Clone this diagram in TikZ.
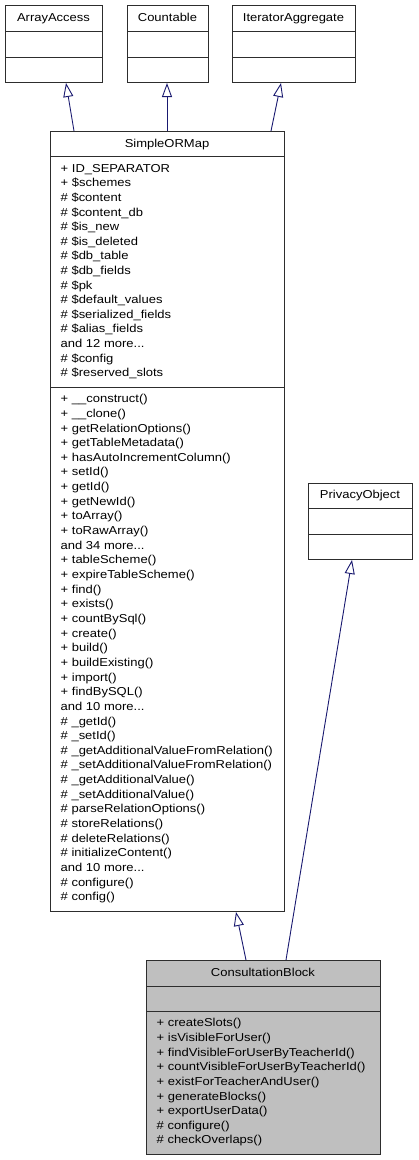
\documentclass[tikz,border=0pt]{standalone}
\usepackage{fontspec}
\setmainfont[FakeStretch=1.13]{Liberation Sans}
\usetikzlibrary{arrows.meta}
\definecolor{edgeblue}{RGB}{25,25,112}
\definecolor{cbfill}{RGB}{191,191,191}
\definecolor{boxline}{RGB}{45,45,45}
\newcommand\andmore[1]{and #1 more...}
\begin{document}
\begin{tikzpicture}[x=1pt,y=-1pt,
  box/.style={draw=boxline, line width=1pt, rectangle, inner sep=0pt, anchor=north west},
  divider/.style={draw=boxline, line width=1pt},
  txt/.style={anchor=base west, inner sep=0pt, font=\fontsize{11.5}{14}\selectfont},
  ttl/.style={anchor=base, inner sep=0pt, font=\fontsize{11.5}{14}\selectfont},
  inherit/.style={draw=edgeblue, line width=0.9pt, -{Triangle[open, length=14pt, width=10pt]}}]
\useasboundingbox[fill=white] (0,0) rectangle (418,1160);

% ArrayAccess
\node[box, minimum width=97pt, minimum height=77pt] (aa) at (5,5) {};
\draw[divider] (5,31) -- (102,31) (5,57) -- (102,57);
\node[ttl] (aat) at (53.5,21.5) {ArrayAccess};

% Countable
\node[box, minimum width=81pt, minimum height=77pt] (ca) at (127,5) {};
\draw[divider] (127,31) -- (208,31) (127,57) -- (208,57);
\node[ttl] (cat) at (167.5,21.5) {Countable};

% IteratorAggregate
\node[box, minimum width=123pt, minimum height=77pt] (ia) at (232,5) {};
\draw[divider] (232,31) -- (355,31) (232,57) -- (355,57);
\node[ttl] (iat) at (293.5,21.5) {IteratorAggregate};

% SimpleORMap
\node[box, minimum width=234pt, minimum height=780pt] (sm) at (50,131) {};
\draw[divider] (50,156) -- (284,156) (50,387) -- (284,387);
\node[ttl] (smt) at (167,147) {SimpleORMap};
\foreach \t [count=\i from 0] in {+ ID\_SEPARATOR, + \$schemes, \# \$content, \# \$content\_db,
  \# \$is\_new, \# \$is\_deleted, \# \$db\_table, \# \$db\_fields, \# \$pk, \# \$default\_values,
  \# \$serialized\_fields, \# \$alias\_fields, \andmore{12}, \# \$config, \# \$reserved\_slots}
  \node[txt] (sma\i) at (60.5,172.3+14.6*\i) {\t};
\foreach \t [count=\i from 0] in {+ \_\_construct(), + \_\_clone(), + getRelationOptions(),
  + getTableMetadata(), + hasAutoIncrementColumn(), + setId(), + getId(), + getNewId(),
  + toArray(), + toRawArray(), \andmore{34}, + tableScheme(), + expireTableScheme(),
  + find(), + exists(), + countBySql(), + create(), + build(), + buildExisting(), + import(),
  + findBySQL(), \andmore{10}, \# \_getId(), \# \_setId(), \# \_getAdditionalValueFromRelation(),
  \# \_setAdditionalValueFromRelation(), \# \_getAdditionalValue(), \# \_setAdditionalValue(),
  \# parseRelationOptions(), \# storeRelations(), \# deleteRelations(), \# initializeContent(),
  \andmore{10}, \# configure(), \# config()}
  \node[txt] (smm\i) at (60.5,402.7+14.65*\i) {\t};

% PrivacyObject
\node[box, minimum width=104pt, minimum height=76pt] (po) at (308,483) {};
\draw[divider] (308,508) -- (412,508) (308,534) -- (412,534);
\node[ttl] (pot) at (360,498.5) {PrivacyObject};

% ConsultationBlock
\node[box, fill=cbfill, minimum width=234pt, minimum height=194pt] (cb) at (146,960) {};
\draw[divider] (146,986) -- (380,986) (146,1011) -- (380,1011);
\node[ttl] (cbt) at (263,976) {ConsultationBlock};
\foreach \t [count=\i from 0] in {+ createSlots(), + isVisibleForUser(), + findVisibleForUserByTeacherId(),
  + countVisibleForUserByTeacherId(), + existForTeacherAndUser(), + generateBlocks(),
  + exportUserData(), \# configure(), \# checkOverlaps()}
  \node[txt] (cbm\i) at (156.5,1026.7+14.66*\i) {\t};

% inheritance
\draw[inherit] ([xshift=24pt]sm.north west) -- ([xshift=61pt]aa.south west);
\draw[inherit] ([xshift=117pt]sm.north west) -- ([xshift=40pt]ca.south west);
\draw[inherit] ([xshift=221pt]sm.north west) -- ([xshift=49pt]ia.south west);
\draw[inherit] ([xshift=100pt]cb.north west) -- ([xshift=186pt]sm.south west);
\draw[inherit] ([xshift=140pt]cb.north west) -- ([xshift=44pt]po.south west);
\end{tikzpicture}
\end{document}
